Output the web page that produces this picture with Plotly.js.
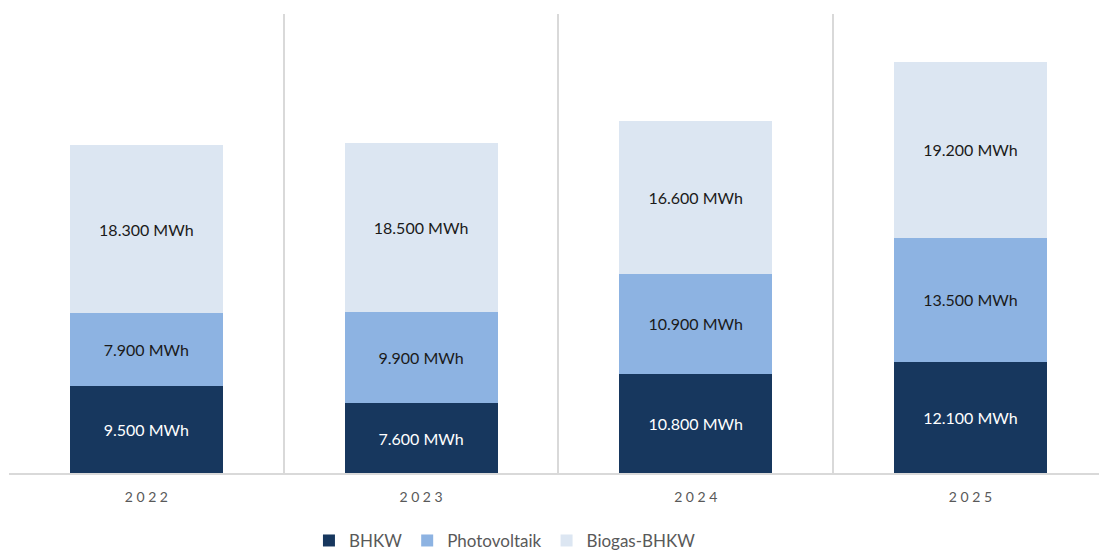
<!DOCTYPE html>
<html>
<head>
<meta charset="utf-8">
<script src="https://cdn.plot.ly/plotly-3.0.1.min.js"></script>
<style>html,body{margin:0;padding:0;background:#fff;}#chart{width:1099px;height:553px;}</style>
</head>
<body>
<div id="chart"></div>
<script>
const years = ['2022', '2023', '2024', '2025'];
const bhkw = [9500, 7600, 10800, 12100];
const photovoltaik = [7900, 9900, 10900, 13500];
const biogas = [18300, 18500, 16600, 19200];
const seriesNames = ['BHKW', 'Photovoltaik', 'Biogas-BHKW'];
const yearLabels = years.map(y => y.split('').join(' '));

const colors = ['#17375e', '#8db3e2', '#dce6f2'];
const textColors = ['#ffffff', '#1a1a1a', '#1a1a1a'];
const fontFam = 'Lato, "Open Sans", sans-serif';

const data = [bhkw, photovoltaik, biogas].map((vals, i) => ({
  type: 'bar',
  name: seriesNames[i],
  x: years,
  y: vals,
  marker: {color: colors[i], line: {width: 0}},
  texttemplate: '%{y:,.0f} MWh',
  textposition: 'inside',
  insidetextanchor: 'middle',
  textangle: 0,
  textfont: {family: fontFam, size: 16, color: textColors[i]},
  hoverinfo: 'none'
}));

const layout = {
  width: 1099,
  height: 553,
  separators: ',.',
  barmode: 'stack',
  bargap: 0.443,
  paper_bgcolor: '#ffffff',
  plot_bgcolor: '#ffffff',
  margin: {l: 9, r: 0, t: 14, b: 80, autoexpand: false},
  showlegend: true,
  legend: {
    orientation: 'h',
    x: 0.455, xanchor: 'center',
    y: -0.148, yanchor: 'middle',
    font: {family: fontFam, size: 17, color: '#595959'},
    traceorder: 'normal'
  },
  xaxis: {
    type: 'category',
    range: [-0.5, 3.468],
    tickson: 'boundaries',
    tickmode: 'array',
    tickvals: years,
    ticktext: yearLabels,
    showgrid: true,
    gridcolor: '#d9d9d9',
    gridwidth: 2,
    showline: true,
    linecolor: '#d9d9d9',
    linewidth: 2,
    ticks: '',
    ticklen: 0,
    ticklabelstandoff: 10,
    tickfont: {family: fontFam, size: 14, color: '#595959'},
    zeroline: false
  },
  yaxis: {
    range: [0, 50000],
    showgrid: false,
    showticklabels: false,
    zeroline: false,
    showline: false,
    ticks: ''
  }
};

Plotly.newPlot('chart', data, layout, {displayModeBar: false, staticPlot: true});
</script>
</body>
</html>
